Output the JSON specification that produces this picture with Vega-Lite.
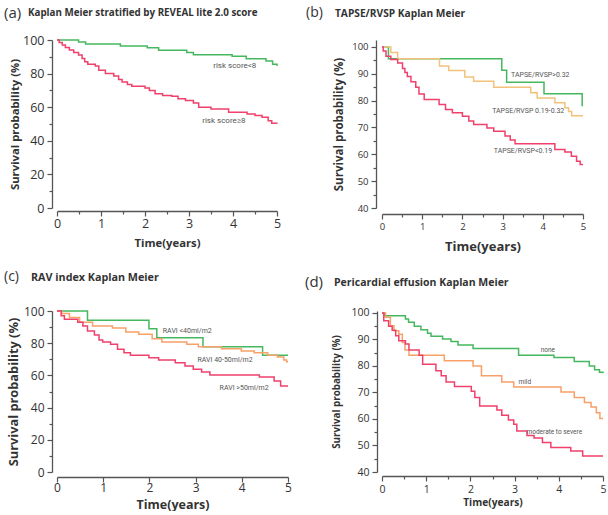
{
  "$schema": "https://vega.github.io/schema/vega-lite/v6.json",
  "padding": {"left": 3, "top": 5, "right": 0, "bottom": 0},
  "background": "white",
  "bounds": "flush",
  "columns": 2,
  "spacing": {"row": 103, "column": 94},
  "resolve": {"scale": {"x": "independent", "y": "independent", "color": "independent"}, "axis": {"x": "independent", "y": "independent"}},
  "datasets": {
    "a": [
      {"t":0,"s":100,"g":"low"},{"t":0.49,"s":98.8,"g":"low"},{"t":0.65,"s":97.6,"g":"low"},{"t":1.44,"s":96.4,"g":"low"},{"t":2.05,"s":95.4,"g":"low"},{"t":2.31,"s":93.9,"g":"low"},{"t":2.95,"s":92.5,"g":"low"},{"t":3.1,"s":91.2,"g":"low"},{"t":3.98,"s":90.3,"g":"low"},{"t":4.3,"s":88.9,"g":"low"},{"t":4.75,"s":87.5,"g":"low"},{"t":4.9,"s":85.5,"g":"low"},{"t":5,"s":84.5,"g":"low"},
      {"t":0,"s":100,"g":"high"},{"t":0.05,"s":98.5,"g":"high"},{"t":0.12,"s":97,"g":"high"},{"t":0.19,"s":95.5,"g":"high"},{"t":0.28,"s":94,"g":"high"},{"t":0.38,"s":92.5,"g":"high"},{"t":0.49,"s":91,"g":"high"},{"t":0.57,"s":89,"g":"high"},{"t":0.63,"s":87,"g":"high"},{"t":0.7,"s":85.5,"g":"high"},{"t":0.87,"s":84.5,"g":"high"},{"t":0.95,"s":82,"g":"high"},{"t":1.1,"s":80,"g":"high"},{"t":1.29,"s":78.5,"g":"high"},{"t":1.4,"s":76.5,"g":"high"},{"t":1.48,"s":75,"g":"high"},{"t":1.6,"s":73.5,"g":"high"},{"t":1.7,"s":72.5,"g":"high"},{"t":2.0,"s":71.5,"g":"high"},{"t":2.1,"s":70,"g":"high"},{"t":2.23,"s":68,"g":"high"},{"t":2.4,"s":67,"g":"high"},{"t":2.61,"s":66.5,"g":"high"},{"t":2.75,"s":65,"g":"high"},{"t":2.92,"s":64,"g":"high"},{"t":3.1,"s":62.5,"g":"high"},{"t":3.22,"s":60,"g":"high"},{"t":3.5,"s":59,"g":"high"},{"t":3.9,"s":57,"g":"high"},{"t":4.32,"s":56,"g":"high"},{"t":4.5,"s":55,"g":"high"},{"t":4.66,"s":54,"g":"high"},{"t":4.8,"s":52,"g":"high"},{"t":4.88,"s":50.5,"g":"high"},{"t":5,"s":50.3,"g":"high"}
    ],
    "aLab": [
      {"t":3.55,"s":84.6,"label":"risk score<8"},
      {"t":3.3,"s":51.5,"label":"risk score≥8"}
    ],
    "b": [
      {"t":0,"s":100,"g":"hi"},{"t":0.16,"s":95.6,"g":"hi"},{"t":2.98,"s":91.3,"g":"hi"},{"t":3.1,"s":86.9,"g":"hi"},{"t":4.03,"s":82.6,"g":"hi"},{"t":4.98,"s":78.2,"g":"hi"},{"t":5,"s":78.2,"g":"hi"},
      {"t":0,"s":100,"g":"mid"},{"t":0.22,"s":97.9,"g":"mid"},{"t":0.39,"s":95.6,"g":"mid"},{"t":1.43,"s":92.9,"g":"mid"},{"t":1.66,"s":91.2,"g":"mid"},{"t":2.06,"s":88.8,"g":"mid"},{"t":2.28,"s":87.2,"g":"mid"},{"t":2.78,"s":85,"g":"mid"},{"t":3.7,"s":82.9,"g":"mid"},{"t":3.86,"s":81,"g":"mid"},{"t":4.3,"s":79.2,"g":"mid"},{"t":4.55,"s":77.4,"g":"mid"},{"t":4.64,"s":76,"g":"mid"},{"t":4.72,"s":74.4,"g":"mid"},{"t":5,"s":74.4,"g":"mid"},
      {"t":0,"s":100,"g":"lo"},{"t":0.03,"s":98.5,"g":"lo"},{"t":0.1,"s":96.5,"g":"lo"},{"t":0.22,"s":95.3,"g":"lo"},{"t":0.39,"s":94,"g":"lo"},{"t":0.51,"s":92,"g":"lo"},{"t":0.57,"s":90.5,"g":"lo"},{"t":0.63,"s":89,"g":"lo"},{"t":0.72,"s":87,"g":"lo"},{"t":0.84,"s":85,"g":"lo"},{"t":0.92,"s":82.5,"g":"lo"},{"t":1.05,"s":80.4,"g":"lo"},{"t":1.42,"s":78.6,"g":"lo"},{"t":1.58,"s":76.7,"g":"lo"},{"t":1.75,"s":75.5,"g":"lo"},{"t":2.0,"s":74.2,"g":"lo"},{"t":2.16,"s":72.4,"g":"lo"},{"t":2.28,"s":71.1,"g":"lo"},{"t":2.61,"s":69.8,"g":"lo"},{"t":2.78,"s":68.6,"g":"lo"},{"t":3.06,"s":66.8,"g":"lo"},{"t":3.19,"s":65.3,"g":"lo"},{"t":3.31,"s":63.9,"g":"lo"},{"t":4.3,"s":61.8,"g":"lo"},{"t":4.55,"s":60.9,"g":"lo"},{"t":4.71,"s":59.3,"g":"lo"},{"t":4.84,"s":57.4,"g":"lo"},{"t":4.93,"s":56.2,"g":"lo"},{"t":5,"s":56.2,"g":"lo"}
    ],
    "bLab": [
      {"t":3.21,"s":89.5,"label":"TAPSE/RVSP>0.32"},
      {"t":2.74,"s":76.3,"label":"TAPSE/RVSP 0.19-0.32"},
      {"t":2.78,"s":61.1,"label":"TAPSE/RVSP<0.19"}
    ],
    "c": [
      {"t":0,"s":100,"g":"lt40"},{"t":0.66,"s":94.2,"g":"lt40"},{"t":1.99,"s":89,"g":"lt40"},{"t":2.16,"s":83.4,"g":"lt40"},{"t":3.16,"s":77.8,"g":"lt40"},{"t":4.45,"s":72.5,"g":"lt40"},{"t":5,"s":72.5,"g":"lt40"},
      {"t":0,"s":100,"g":"mid"},{"t":0.1,"s":98.5,"g":"mid"},{"t":0.27,"s":96,"g":"mid"},{"t":0.49,"s":93,"g":"mid"},{"t":0.77,"s":90.7,"g":"mid"},{"t":1.2,"s":89.5,"g":"mid"},{"t":1.49,"s":87,"g":"mid"},{"t":1.77,"s":85.5,"g":"mid"},{"t":2.06,"s":82.8,"g":"mid"},{"t":2.27,"s":80.7,"g":"mid"},{"t":2.81,"s":79.3,"g":"mid"},{"t":3.06,"s":77.8,"g":"mid"},{"t":3.56,"s":76.5,"g":"mid"},{"t":3.99,"s":75.2,"g":"mid"},{"t":4.27,"s":74,"g":"mid"},{"t":4.56,"s":72.5,"g":"mid"},{"t":4.77,"s":71.5,"g":"mid"},{"t":4.91,"s":69.5,"g":"mid"},{"t":4.97,"s":68.5,"g":"mid"},{"t":5,"s":68.5,"g":"mid"},
      {"t":0,"s":100,"g":"gt50"},{"t":0.09,"s":97,"g":"gt50"},{"t":0.16,"s":94.8,"g":"gt50"},{"t":0.45,"s":93,"g":"gt50"},{"t":0.56,"s":90.7,"g":"gt50"},{"t":0.66,"s":87.6,"g":"gt50"},{"t":0.81,"s":85.1,"g":"gt50"},{"t":0.91,"s":82,"g":"gt50"},{"t":0.99,"s":80.7,"g":"gt50"},{"t":1.16,"s":79.3,"g":"gt50"},{"t":1.31,"s":76.2,"g":"gt50"},{"t":1.45,"s":74.1,"g":"gt50"},{"t":1.59,"s":72.5,"g":"gt50"},{"t":1.99,"s":71,"g":"gt50"},{"t":2.2,"s":69.6,"g":"gt50"},{"t":2.56,"s":67.9,"g":"gt50"},{"t":2.77,"s":65.8,"g":"gt50"},{"t":2.95,"s":63.8,"g":"gt50"},{"t":3.13,"s":62.1,"g":"gt50"},{"t":3.31,"s":60.2,"g":"gt50"},{"t":4.38,"s":59,"g":"gt50"},{"t":4.7,"s":56.5,"g":"gt50"},{"t":4.84,"s":53.4,"g":"gt50"},{"t":5,"s":53.4,"g":"gt50"}
    ],
    "cLab": [
      {"t":2.29,"s":87.6,"label":"RAVI <40ml/m2"},
      {"t":3.04,"s":69.4,"label":"RAVI 40-50ml/m2"},
      {"t":3.52,"s":52.4,"label":"RAVI >50ml/m2"}
    ],
    "d": [
      {"t":0,"s":100,"g":"none"},{"t":0.06,"s":99,"g":"none"},{"t":0.53,"s":97.7,"g":"none"},{"t":0.6,"s":96.5,"g":"none"},{"t":0.73,"s":95,"g":"none"},{"t":0.88,"s":93.7,"g":"none"},{"t":1.03,"s":92.4,"g":"none"},{"t":1.11,"s":91.2,"g":"none"},{"t":1.37,"s":90.2,"g":"none"},{"t":1.56,"s":89.2,"g":"none"},{"t":1.72,"s":87.9,"g":"none"},{"t":2.06,"s":86.6,"g":"none"},{"t":3.09,"s":84.1,"g":"none"},{"t":3.89,"s":83.2,"g":"none"},{"t":4.35,"s":81.7,"g":"none"},{"t":4.69,"s":80,"g":"none"},{"t":4.81,"s":78.6,"g":"none"},{"t":4.92,"s":77.6,"g":"none"},{"t":5,"s":77.3,"g":"none"},
      {"t":0,"s":100,"g":"mild"},{"t":0.08,"s":98.4,"g":"mild"},{"t":0.19,"s":95.2,"g":"mild"},{"t":0.27,"s":93.3,"g":"mild"},{"t":0.38,"s":92,"g":"mild"},{"t":0.46,"s":88.9,"g":"mild"},{"t":0.52,"s":86,"g":"mild"},{"t":0.61,"s":84.1,"g":"mild"},{"t":1.41,"s":82,"g":"mild"},{"t":2.06,"s":80,"g":"mild"},{"t":2.25,"s":76.3,"g":"mild"},{"t":2.71,"s":74,"g":"mild"},{"t":2.98,"s":72.1,"g":"mild"},{"t":4.05,"s":70.2,"g":"mild"},{"t":4.35,"s":68.1,"g":"mild"},{"t":4.58,"s":66.2,"g":"mild"},{"t":4.73,"s":64.5,"g":"mild"},{"t":4.85,"s":62.4,"g":"mild"},{"t":4.93,"s":60.2,"g":"mild"},{"t":5,"s":60.2,"g":"mild"},
      {"t":0,"s":100,"g":"mod"},{"t":0.04,"s":97.1,"g":"mod"},{"t":0.15,"s":95,"g":"mod"},{"t":0.23,"s":93.5,"g":"mod"},{"t":0.31,"s":91.4,"g":"mod"},{"t":0.38,"s":89.5,"g":"mod"},{"t":0.53,"s":88.3,"g":"mod"},{"t":0.61,"s":86,"g":"mod"},{"t":0.84,"s":84.1,"g":"mod"},{"t":0.92,"s":80.7,"g":"mod"},{"t":1.22,"s":78.2,"g":"mod"},{"t":1.34,"s":76.3,"g":"mod"},{"t":1.45,"s":74,"g":"mod"},{"t":1.64,"s":72.3,"g":"mod"},{"t":2.02,"s":70.5,"g":"mod"},{"t":2.1,"s":68.1,"g":"mod"},{"t":2.21,"s":64.9,"g":"mod"},{"t":2.6,"s":63.4,"g":"mod"},{"t":2.71,"s":61.4,"g":"mod"},{"t":2.86,"s":59.6,"g":"mod"},{"t":2.98,"s":58,"g":"mod"},{"t":3.05,"s":55.5,"g":"mod"},{"t":3.28,"s":53.8,"g":"mod"},{"t":3.44,"s":52.8,"g":"mod"},{"t":3.63,"s":51.1,"g":"mod"},{"t":3.82,"s":49.2,"g":"mod"},{"t":4.27,"s":47.9,"g":"mod"},{"t":4.54,"s":46,"g":"mod"},{"t":5,"s":46,"g":"mod"}
    ],
    "dLab": [
      {"t":3.59,"s":86.1,"label":"none"},
      {"t":3.09,"s":74,"label":"mild"},
      {"t":3.27,"s":55.1,"label":"moderate to severe"}
    ]
  },
  "concat": [
    {
      "width": 220, "height": 168,
      "resolve": {"axis": {"x": "independent", "y": "independent"}},
      "layer": [
        {
          "data": {"name": "a"},
          "mark": {"type": "line", "interpolate": "step-after", "strokeWidth": 1.5},
          "encoding": {
            "x": {"field": "t", "type": "quantitative", "scale": {"domain": [0, 5], "nice": false},
                  "axis": {"title": "Time(years)", "values": [0,1,2,3,4,5], "tickSize": 5, "offset": 3, "labelPadding": 1, "labelFontSize": 12.5, "titleFontSize": 11.3, "titlePadding": 8}},
            "y": {"field": "s", "type": "quantitative", "scale": {"domain": [0, 100], "nice": false},
                  "axis": {"title": "Survival probability (%)", "values": [0,20,40,60,80,100], "tickSize": 5, "offset": 5, "labelFontSize": 12.5, "titleFontSize": 11.3, "titlePadding": 2}},
            "color": {"field": "g", "type": "nominal", "scale": {"domain": ["low", "high"], "range": ["#45b85f", "#f0406c"]}, "legend": null}
          }
        },
        {
          "data": {"name": "aLab"},
          "mark": {"type": "text", "align": "left", "baseline": "middle", "fontSize": 8, "color": "#555", "font": "Roboto"},
          "encoding": {
            "x": {"field": "t", "type": "quantitative", "axis": {"orient": "bottom", "values": [0.5,1.5,2.5,3.5,4.5], "labels": false, "domain": false, "title": null, "tickSize": 3, "offset": 3}},
            "y": {"field": "s", "type": "quantitative", "axis": {"orient": "left", "values": [10,30,50,70,90], "labels": false, "domain": false, "title": null, "tickSize": 3, "offset": 5}},
            "text": {"field": "label"}
          }
        },
        {
          "data": {"values": [{}]},
          "mark": {"type": "text", "align": "left", "baseline": "alphabetic", "fontSize": 15, "color": "#333", "font": "Open Sans"},
          "encoding": {"x": {"datum": -1.205, "type": "quantitative", "axis": null}, "y": {"datum": 112.9, "type": "quantitative", "axis": null}, "text": {"value": "(a)"}}
        },
        {
          "data": {"values": [{}]},
          "mark": {"type": "text", "align": "left", "baseline": "alphabetic", "fontSize": 9.8, "fontWeight": "bold", "color": "#333", "font": "Open Sans"},
          "encoding": {"x": {"datum": -0.66, "type": "quantitative", "axis": null}, "y": {"datum": 114.1, "type": "quantitative", "axis": null}, "text": {"value": "Kaplan Meier stratified by REVEAL lite 2.0 score"}}
        }
      ]
    },
    {
      "width": 201, "height": 168,
      "resolve": {"axis": {"x": "independent", "y": "independent"}},
      "layer": [
        {
          "data": {"name": "b"},
          "mark": {"type": "line", "interpolate": "step-after", "strokeWidth": 1.5},
          "encoding": {
            "x": {"field": "t", "type": "quantitative", "scale": {"domain": [0, 5], "nice": false},
                  "axis": {"title": "Time(years)", "values": [0,1,2,3,4,5], "tickSize": 5, "offset": 6, "labelPadding": 2, "labelFontSize": 9.5, "titleFontSize": 13, "titlePadding": 10}},
            "y": {"field": "s", "type": "quantitative", "scale": {"domain": [40, 102.6], "nice": false, "zero": false},
                  "axis": {"title": "Survival probability (%)", "values": [40,50,60,70,80,90,100], "tickSize": 5, "offset": 6, "labelFontSize": 9.5, "titleFontSize": 11.5, "titlePadding": 7}},
            "color": {"field": "g", "type": "nominal", "scale": {"domain": ["hi", "mid", "lo"], "range": ["#45b85f", "#f2c27a", "#f0406c"]}, "legend": null}
          }
        },
        {
          "data": {"name": "bLab"},
          "mark": {"type": "text", "align": "left", "baseline": "middle", "fontSize": 7, "color": "#555", "font": "Roboto"},
          "encoding": {
            "x": {"field": "t", "type": "quantitative", "axis": {"orient": "bottom", "values": [0.5,1.5,2.5,3.5,4.5], "labels": false, "domain": false, "title": null, "tickSize": 3, "offset": 6}},
            "y": {"field": "s", "type": "quantitative", "axis": {"orient": "left", "values": [45,55,65,75,85,95], "labels": false, "domain": false, "title": null, "tickSize": 3, "offset": 6}},
            "text": {"field": "label"}
          }
        },
        {
          "data": {"values": [{}]},
          "mark": {"type": "text", "align": "left", "baseline": "alphabetic", "fontSize": 14, "color": "#333", "font": "Open Sans"},
          "encoding": {"x": {"datum": -1.89, "type": "quantitative", "axis": null}, "y": {"datum": 111.2, "type": "quantitative", "axis": null}, "text": {"value": "(b)"}}
        },
        {
          "data": {"values": [{}]},
          "mark": {"type": "text", "align": "left", "baseline": "alphabetic", "fontSize": 10.2, "fontWeight": "bold", "color": "#333", "font": "Open Sans"},
          "encoding": {"x": {"datum": -1.17, "type": "quantitative", "axis": null}, "y": {"datum": 111.3, "type": "quantitative", "axis": null}, "text": {"value": "TAPSE/RVSP Kaplan Meier"}}
        }
      ]
    },
    {
      "width": 231, "height": 161,
      "resolve": {"axis": {"x": "independent", "y": "independent"}},
      "layer": [
        {
          "data": {"name": "c"},
          "mark": {"type": "line", "interpolate": "step-after", "strokeWidth": 1.5},
          "encoding": {
            "x": {"field": "t", "type": "quantitative", "scale": {"domain": [0, 5], "nice": false},
                  "axis": {"title": "Time(years)", "values": [0,1,2,3,4,5], "tickSize": 5, "offset": 5, "labelPadding": 0, "labelFontSize": 12, "titleFontSize": 12.5, "titlePadding": 5}},
            "y": {"field": "s", "type": "quantitative", "scale": {"domain": [0, 100], "nice": false},
                  "axis": {"title": "Survival probability (%)", "values": [0,20,40,60,80,100], "tickSize": 5, "offset": 5, "labelFontSize": 12, "titleFontSize": 12.8, "titlePadding": 3}},
            "color": {"field": "g", "type": "nominal", "scale": {"domain": ["lt40", "mid", "gt50"], "range": ["#45b85f", "#f7a067", "#f0406c"]}, "legend": null}
          }
        },
        {
          "data": {"name": "cLab"},
          "mark": {"type": "text", "align": "left", "baseline": "middle", "fontSize": 7, "color": "#555", "font": "Roboto"},
          "encoding": {
            "x": {"field": "t", "type": "quantitative", "axis": null},
            "y": {"field": "s", "type": "quantitative", "axis": {"orient": "left", "values": [10,30,50,70,90], "labels": false, "domain": false, "title": null, "tickSize": 3, "offset": 5}},
            "text": {"field": "label"}
          }
        },
        {
          "data": {"values": [{}]},
          "mark": {"type": "text", "align": "left", "baseline": "alphabetic", "fontSize": 14, "color": "#333", "font": "Open Sans"},
          "encoding": {"x": {"datum": -1.147, "type": "quantitative", "axis": null}, "y": {"datum": 118.4, "type": "quantitative", "axis": null}, "text": {"value": "(c)"}}
        },
        {
          "data": {"values": [{}]},
          "mark": {"type": "text", "align": "left", "baseline": "alphabetic", "fontSize": 10.75, "fontWeight": "bold", "color": "#333", "font": "Open Sans"},
          "encoding": {"x": {"datum": -0.563, "type": "quantitative", "axis": null}, "y": {"datum": 118.4, "type": "quantitative", "axis": null}, "text": {"value": "RAV index Kaplan Meier"}}
        }
      ]
    },
    {
      "width": 221, "height": 161,
      "resolve": {"axis": {"x": "independent", "y": "independent"}},
      "layer": [
        {
          "data": {"name": "d"},
          "mark": {"type": "line", "interpolate": "step-after", "strokeWidth": 1.5},
          "encoding": {
            "x": {"field": "t", "type": "quantitative", "scale": {"domain": [0, 5], "nice": false},
                  "axis": {"title": "Time(years)", "values": [0,1,2,3,4,5], "tickSize": 5, "offset": 4, "labelPadding": 3, "labelFontSize": 10.5, "titleFontSize": 10.2, "titlePadding": 3}},
            "y": {"field": "s", "type": "quantitative", "scale": {"domain": [40, 100.75], "nice": false, "zero": false},
                  "axis": {"title": "Survival probability (%)", "values": [40,50,60,70,80,90,100], "tickSize": 5, "offset": 5, "labelFontSize": 10.5, "titleFontSize": 9.8, "titlePadding": 9}},
            "color": {"field": "g", "type": "nominal", "scale": {"domain": ["none", "mild", "mod"], "range": ["#45b85f", "#f7a067", "#f0406c"]}, "legend": null}
          }
        },
        {
          "data": {"name": "dLab"},
          "mark": {"type": "text", "align": "left", "baseline": "middle", "fontSize": 6.5, "color": "#555", "font": "Roboto"},
          "encoding": {
            "x": {"field": "t", "type": "quantitative", "axis": {"orient": "bottom", "values": [0.5,1.5,2.5,3.5,4.5], "labels": false, "domain": false, "title": null, "tickSize": 3, "offset": 4}},
            "y": {"field": "s", "type": "quantitative", "axis": {"orient": "left", "values": [45,55,65,75,85,95], "labels": false, "domain": false, "title": null, "tickSize": 3, "offset": 5}},
            "text": {"field": "label"}
          }
        },
        {
          "data": {"values": [{}]},
          "mark": {"type": "text", "align": "left", "baseline": "alphabetic", "fontSize": 15, "color": "#333", "font": "Open Sans"},
          "encoding": {"x": {"datum": -1.742, "type": "quantitative", "axis": null}, "y": {"datum": 109.8, "type": "quantitative", "axis": null}, "text": {"value": "(d)"}}
        },
        {
          "data": {"values": [{}]},
          "mark": {"type": "text", "align": "left", "baseline": "alphabetic", "fontSize": 10.5, "fontWeight": "bold", "color": "#333", "font": "Open Sans"},
          "encoding": {"x": {"datum": -1.086, "type": "quantitative", "axis": null}, "y": {"datum": 110.3, "type": "quantitative", "axis": null}, "text": {"value": "Pericardial effusion Kaplan Meier"}}
        }
      ]
    }
  ],
  "config": {
    "view": {"stroke": null},
    "axis": {"grid": false, "domainColor": "#555", "domainWidth": 1.3, "tickColor": "#555", "tickWidth": 1.2, "labelColor": "#333", "titleColor": "#333", "labelFont": "Open Sans", "titleFont": "Open Sans", "titleFontWeight": "bold", "labelPadding": 3, "labelOverlap": false, "labelFlush": false}
  }
}
